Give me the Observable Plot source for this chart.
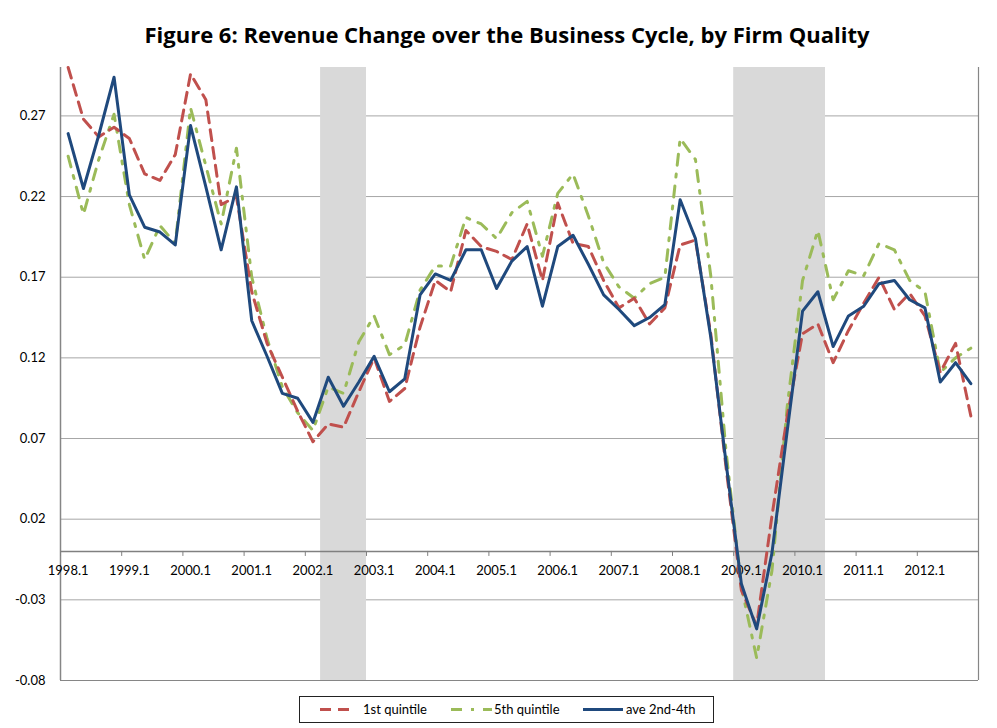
<!DOCTYPE html>
<html>
<head>
<meta charset="utf-8">
<script src="https://cdn.jsdelivr.net/npm/d3@7"></script>
<script src="https://cdn.jsdelivr.net/npm/@observablehq/plot@0.6"></script>
<style>
  html, body { margin: 0; padding: 0; background: #fff; }
  body { width: 997px; height: 728px; position: relative; overflow: hidden; font-family: Lato, "Open Sans", sans-serif; }
  #title { box-sizing: border-box; height: 60px; padding-top: 20px; padding-left: 17px; text-align: center; font-family: "Open Sans", Lato, sans-serif; font-size: 22px; line-height: 28px; font-weight: bold; color: #000; white-space: nowrap; }
  #chart { height: 630px; }
  #legend { position: absolute; left: 299px; top: 696px; width: 413px; height: 25px; border: 1px solid #222; }
</style>
</head>
<body>
<div id="title">Figure 6: Revenue Change over the Business Cycle, by Firm Quality</div>
<div id="chart"></div>
<div id="legend"></div>
<script>
// Quarter categories (x axis)
const quarters = [
  "1998.1","1998.2","1998.3","1998.4","1999.1","1999.2","1999.3","1999.4",
  "2000.1","2000.2","2000.3","2000.4","2001.1","2001.2","2001.3","2001.4",
  "2002.1","2002.2","2002.3","2002.4","2003.1","2003.2","2003.3","2003.4",
  "2004.1","2004.2","2004.3","2004.4","2005.1","2005.2","2005.3","2005.4",
  "2006.1","2006.2","2006.3","2006.4","2007.1","2007.2","2007.3","2007.4",
  "2008.1","2008.2","2008.3","2008.4","2009.1","2009.2","2009.3","2009.4",
  "2010.1","2010.2","2010.3","2010.4","2011.1","2011.2","2011.3","2011.4",
  "2012.1","2012.2","2012.3","2012.4"
];
// Labeled quarters on the x axis
const xTickLabels = ["1998.1","1999.1","2000.1","2001.1","2002.1","2003.1","2004.1","2005.1","2006.1","2007.1","2008.1","2009.1","2010.1","2011.1","2012.1"];
// Y tick values
const yTicks = [-0.08, -0.03, 0.02, 0.07, 0.12, 0.17, 0.22, 0.27];
// Shaded recession periods (first and last shaded quarter)
const recessionStart = ["2002.2", "2009.1"];
const recessionEnd = ["2002.4", "2010.2"];

// Series values
const q1 = [ // 1st quintile
  0.300,0.268,0.257,0.263,0.256,0.234,0.230,0.246,
  0.296,0.280,0.215,0.220,0.161,0.129,0.108,0.087,
  0.068,0.079,0.077,0.099,0.120,0.093,0.101,0.139,
  0.168,0.161,0.199,0.189,0.186,0.181,0.203,0.168,
  0.216,0.191,0.189,0.168,0.151,0.157,0.141,0.151,
  0.190,0.193,0.135,0.052,-0.024,-0.046,0.022,0.084,
  0.135,0.141,0.117,0.137,0.154,0.170,0.150,0.160,
  0.146,0.111,0.129,0.084
];
const q5 = [ // 5th quintile
  0.245,0.209,0.243,0.271,0.215,0.181,0.202,0.191,
  0.275,0.239,0.203,0.250,0.170,0.132,0.102,0.086,
  0.075,0.102,0.098,0.130,0.146,0.122,0.128,0.162,
  0.177,0.177,0.207,0.203,0.194,0.210,0.217,0.183,
  0.222,0.234,0.208,0.179,0.164,0.157,0.166,0.170,
  0.256,0.243,0.171,0.062,-0.022,-0.066,-0.012,0.090,
  0.168,0.199,0.156,0.174,0.171,0.191,0.187,0.168,
  0.161,0.111,0.120,0.126
];
const mid = [ // ave 2nd-4th
  0.259,0.225,0.258,0.294,0.221,0.201,0.198,0.190,
  0.264,0.226,0.187,0.226,0.143,0.121,0.098,0.095,
  0.080,0.108,0.090,0.105,0.121,0.099,0.107,0.159,
  0.172,0.168,0.187,0.187,0.163,0.180,0.189,0.152,
  0.189,0.196,0.178,0.159,0.150,0.140,0.145,0.153,
  0.218,0.194,0.133,0.055,-0.020,-0.048,-0.001,0.075,
  0.149,0.161,0.127,0.146,0.152,0.166,0.168,0.156,
  0.151,0.105,0.117,0.104
];

const seriesNames = ["1st quintile", "5th quintile", "ave 2nd-4th"];
const colors = ["#C0504D", "#9BBB59", "#1F497D"];
const dashes = ["11,7", "11,9,3,9", null];

const yMin = -0.08, yMax = 0.30;
const rows = (vals) => vals.map((v, i) => ({i, v}));
const recRows = recessionStart.map((s, k) => ({a: quarters.indexOf(s), b: quarters.indexOf(recessionEnd[k])}));
const labelRows = xTickLabels.map(l => ({i: quarters.indexOf(l), l}));
const boundaries = d3.range(0, quarters.length + 1, 4).map(k => ({b: k - 0.5}));

const font = "Lato, 'Open Sans', sans-serif";

const chart = Plot.plot({
  width: 997,
  height: 630,
  marginLeft: 60,
  marginRight: 19,
  marginTop: 7,
  marginBottom: 10,
  style: {fontFamily: font, fontSize: "13px", color: "#000", background: "#fff"},
  x: {type: "linear", domain: [-0.5, quarters.length - 0.5], axis: null},
  y: {domain: [yMin, yMax], axis: null},
  marks: [
    Plot.ruleY(yTicks, {stroke: "#a6a6a6", strokeWidth: 1}),
    Plot.rectY(recRows, {x1: d => d.a - 0.5, x2: d => d.b + 0.5, y1: yMin, y2: yMax, fill: "#d9d9d9"}),
    Plot.ruleY([yMin], {stroke: "#868686", strokeWidth: 1.2}),
    Plot.ruleX([-0.5], {y1: yMin, y2: yMax, stroke: "#868686", strokeWidth: 1.5}),
    Plot.ruleX([quarters.length - 0.5], {y1: yMin, y2: yMax, stroke: "#868686", strokeWidth: 1.2}),
    Plot.ruleY([0], {stroke: "#808080", strokeWidth: 1.5}),
    Plot.ruleX(boundaries, {x: "b", y1: 0, y2: 0, insetBottom: -5, stroke: "#808080", strokeWidth: 1}),
    Plot.axisY({ticks: yTicks, tickSize: 0, tickPadding: 15, tickFormat: d => d.toFixed(2), fontSize: 13, label: null}),
    Plot.text(labelRows, {x: "i", y: 0, text: "l", dy: 19, fill: "#000", fontSize: 13}),
    Plot.line(rows(q5), {x: "i", y: "v", stroke: colors[1], strokeWidth: 3, strokeDasharray: dashes[1], strokeLinejoin: "round"}),
    Plot.line(rows(q1), {x: "i", y: "v", stroke: colors[0], strokeWidth: 3, strokeDasharray: dashes[0], strokeLinejoin: "round"}),
    Plot.line(rows(mid), {x: "i", y: "v", stroke: colors[2], strokeWidth: 3, strokeLinejoin: "round"})
  ]
});
document.getElementById("chart").appendChild(chart);

// Legend
const lg = d3.select("#legend").append("svg").attr("width", 413).attr("height", 25)
  .style("font-family", font).style("font-size", "13px");
const items = [
  {x1: 20, x2: 56, tx: 63},
  {x1: 151, x2: 192, tx: 194},
  {x1: 283, x2: 323, tx: 326}
];
items.forEach((it, k) => {
  lg.append("line").attr("x1", it.x1).attr("x2", it.x2).attr("y1", 12.5).attr("y2", 12.5)
    .attr("stroke", colors[k]).attr("stroke-width", 3)
    .attr("stroke-dasharray", dashes[k] || null);
  lg.append("text").attr("x", it.tx).attr("y", 12.5).attr("dy", "0.35em").attr("fill", "#000").text(seriesNames[k]);
});
</script>
</body>
</html>
